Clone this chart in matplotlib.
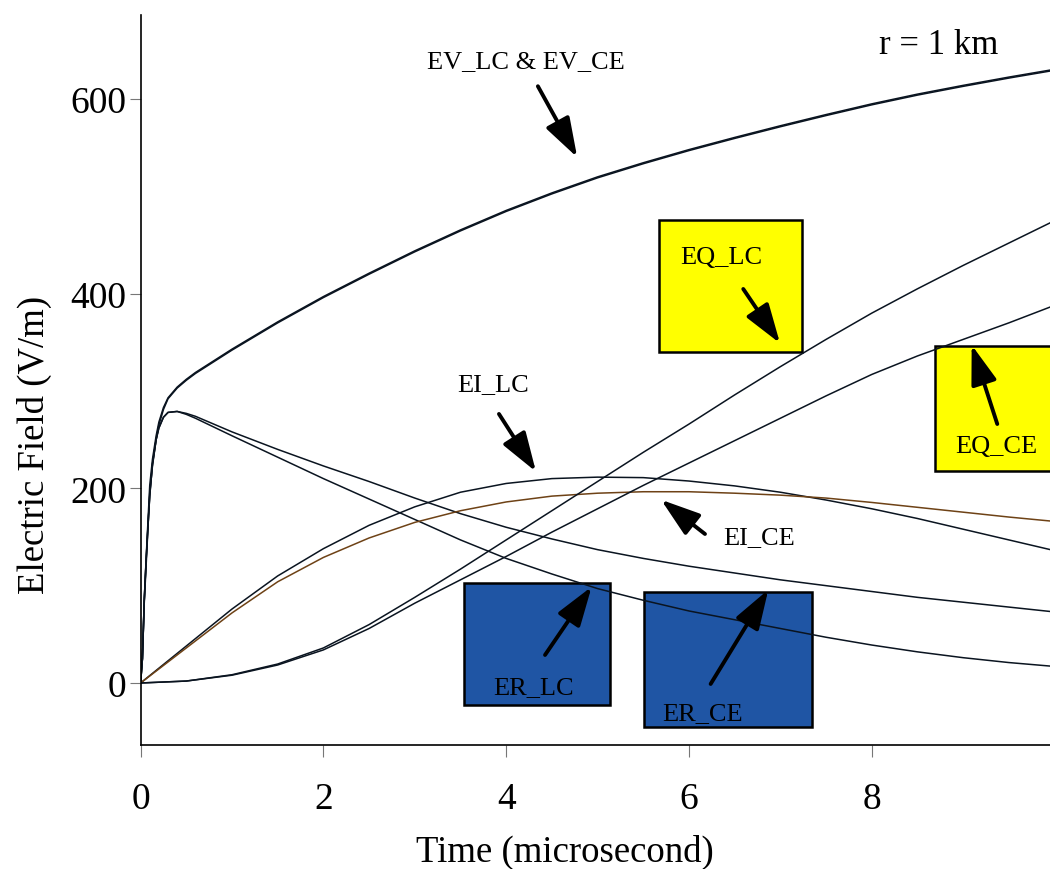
import matplotlib
matplotlib.use("Agg")
import matplotlib.pyplot as plt
from matplotlib.patches import Rectangle

plt.rcParams['font.family'] = ['Liberation Serif', 'DejaVu Serif']

# ---- data (time in microseconds, field in V/m) ----
t_fast = [0, 0.02, 0.04, 0.06, 0.08, 0.1, 0.13, 0.17, 0.2, 0.25, 0.3, 0.4, 0.5, 0.6, 0.8,
          1.0, 1.5, 2.0, 2.5, 3.0, 3.5, 4.0, 4.5, 5.0, 5.5, 6.0, 6.5, 7.0, 7.5, 8.0, 8.5,
          9.0, 9.5, 10.0]
ev_lc = [0, 25, 85, 127, 165, 203, 230, 254, 268, 283, 293, 304, 312, 319, 331,
         343, 371, 397, 421, 444, 465.5, 485.5, 503.5, 520, 534.5, 548, 560.5, 572.5, 584, 595, 605,
         614, 622.5, 630.5]
ev_ce = [0, 25, 82, 120, 158, 195, 223, 250, 265, 281, 292, 303, 311, 318, 330,
         342, 370, 396, 420, 443, 464.5, 484.5, 502.5, 519, 533.5, 547, 559.5, 571.5, 583, 594, 604,
         613, 621.5, 629.5]
er_lc = [0, 25, 85, 125, 160, 192, 225, 250, 262, 273, 278, 279, 276, 272, 263,
         254, 232, 210, 189, 168, 147, 128, 112, 97, 85, 74, 65, 56, 47, 39, 32,
         26, 21, 17]
er_ce = [0, 25, 85, 125, 160, 192, 225, 250, 262, 273, 278, 279, 277, 274, 266,
         258, 240, 223, 207, 190, 174, 160, 148, 137, 128, 120, 113, 106, 100, 94, 88,
         83, 78, 73]

t_slow = [0, 0.5, 1.0, 1.5, 2.0, 2.5, 3.0, 3.5, 4.0, 4.5, 5.0, 5.5, 6.0, 6.5, 7.0,
          7.5, 8.0, 8.5, 9.0, 9.5, 10.0]
ei_lc = [0, 38, 76, 110, 138, 162, 181, 196, 205, 210, 211.5, 211, 207.5, 202.5, 196,
         188, 179, 169, 158, 147, 136]
ei_ce = [0, 36, 72, 104, 129, 149, 165, 177, 186, 192, 195, 196.5, 196.5, 195, 193,
         190, 185.5, 180.5, 175.5, 170.5, 166]
eq_lc = [0, 2, 8.5, 19.5, 36, 60, 88, 117, 147, 177, 207, 237, 266, 296, 325,
         353, 380, 405, 429, 452, 475]
eq_ce = [0, 2, 8, 18.5, 34, 56, 82, 106, 130, 155, 179, 203, 226, 249, 272,
         295, 317, 336, 353, 370, 388]

x_ticks = [0, 2, 4, 6, 8]
y_ticks = [0, 200, 400, 600]

# label boxes: (x0, y0, x1, y1) in data units
yellow_boxes = [(5.675, 339.8, 7.240, 476.0), (8.692, 217.3, 10.3, 346.6)]
blue_boxes = [(3.538, -22.6, 5.132, 102.4), (5.504, -45.5, 7.349, 93.2)]

labels = [("EV_LC & EV_CE", 4.217, 639.4), ("EQ_LC", 6.358, 437.4), ("EQ_CE", 9.367, 243.8),
          ("EI_LC", 3.859, 307.2), ("EI_CE", 6.766, 149.7), ("ER_LC", 4.304, -4.4),
          ("ER_CE", 6.146, -30.8)]
arrows = [((4.347, 613.1), (4.777, 540.1)), ((6.594, 404.8), (6.996, 349.0)),
          ((9.373, 266.1), (9.093, 347.3)), ((3.921, 276.4), (4.326, 217.1)),
          ((6.175, 153.1), (5.694, 188.3)), ((4.425, 28.8), (4.935, 98.9)),
          ((6.237, -1.0), (6.868, 95.9))]

fig = plt.figure(figsize=(10.5, 8.7), dpi=100)
ax = fig.add_axes([0.1339, 0.14253, 0.8661, 0.83908])

for (x0, y0, x1, y1) in yellow_boxes:
    ax.add_patch(Rectangle((x0, y0), x1 - x0, y1 - y0, facecolor='#ffff00',
                           edgecolor='black', lw=1.8, zorder=1))
for (x0, y0, x1, y1) in blue_boxes:
    ax.add_patch(Rectangle((x0, y0), x1 - x0, y1 - y0, facecolor='#1f55a4',
                           edgecolor='black', lw=1.8, zorder=1))

lw = 1.1
dark = '#0a1420'
ax.plot(t_fast, ev_lc, color=dark, lw=lw, zorder=3)
ax.plot(t_fast, ev_ce, color=dark, lw=lw, zorder=3)
ax.plot(t_fast, er_lc, color=dark, lw=lw, zorder=3)
ax.plot(t_fast, er_ce, color=dark, lw=lw, zorder=3)
ax.plot(t_slow, ei_lc, color=dark, lw=lw, zorder=3)
ax.plot(t_slow, ei_ce, color='#6e4216', lw=lw, zorder=3)
ax.plot(t_slow, eq_lc, color=dark, lw=lw, zorder=3)
ax.plot(t_slow, eq_ce, color=dark, lw=lw, zorder=3)

for (txt, x, y) in labels:
    ax.text(x, y, txt, fontsize=19, ha='center', va='center', zorder=5)
ax.text(8.735, 656.5, "r = 1 km", fontsize=25, ha='center', va='center', zorder=5)

for (start, tip) in arrows:
    ax.annotate("", xy=tip, xytext=start,
                arrowprops=dict(arrowstyle='-|>,head_length=1.15,head_width=0.38',
                                mutation_scale=21, lw=2.8, color='black',
                                shrinkA=0, shrinkB=0), zorder=6)

ax.set_xlim(0, 9.95)
ax.set_ylim(-63.7, 686.3)
ax.set_xticks(x_ticks)
ax.set_yticks(y_ticks)
ax.set_xticklabels([str(v) for v in x_ticks])
ax.set_yticklabels([str(v) for v in y_ticks])
for s in ['top', 'right']:
    ax.spines[s].set_visible(False)
for s in ['left', 'bottom']:
    ax.spines[s].set_linewidth(1.2)
    ax.spines[s].set_color('black')
ax.tick_params(axis='x', direction='out', length=8.5, width=0.8, color='#777777',
               labelsize=27, pad=18)
ax.tick_params(axis='y', direction='out', length=8, width=0.8, color='#777777',
               labelsize=27, pad=2)
ax.set_xlabel("Time (microsecond)", fontsize=26.5)
ax.set_ylabel("Electric Field (V/m)", fontsize=26.5)
ax.xaxis.set_label_coords(0.4667, -0.122)
ax.yaxis.set_label_coords(-0.097, 0.412)
for sp in ax.spines.values():
    sp.set_zorder(7)

fig.savefig("out.png", dpi=100)
